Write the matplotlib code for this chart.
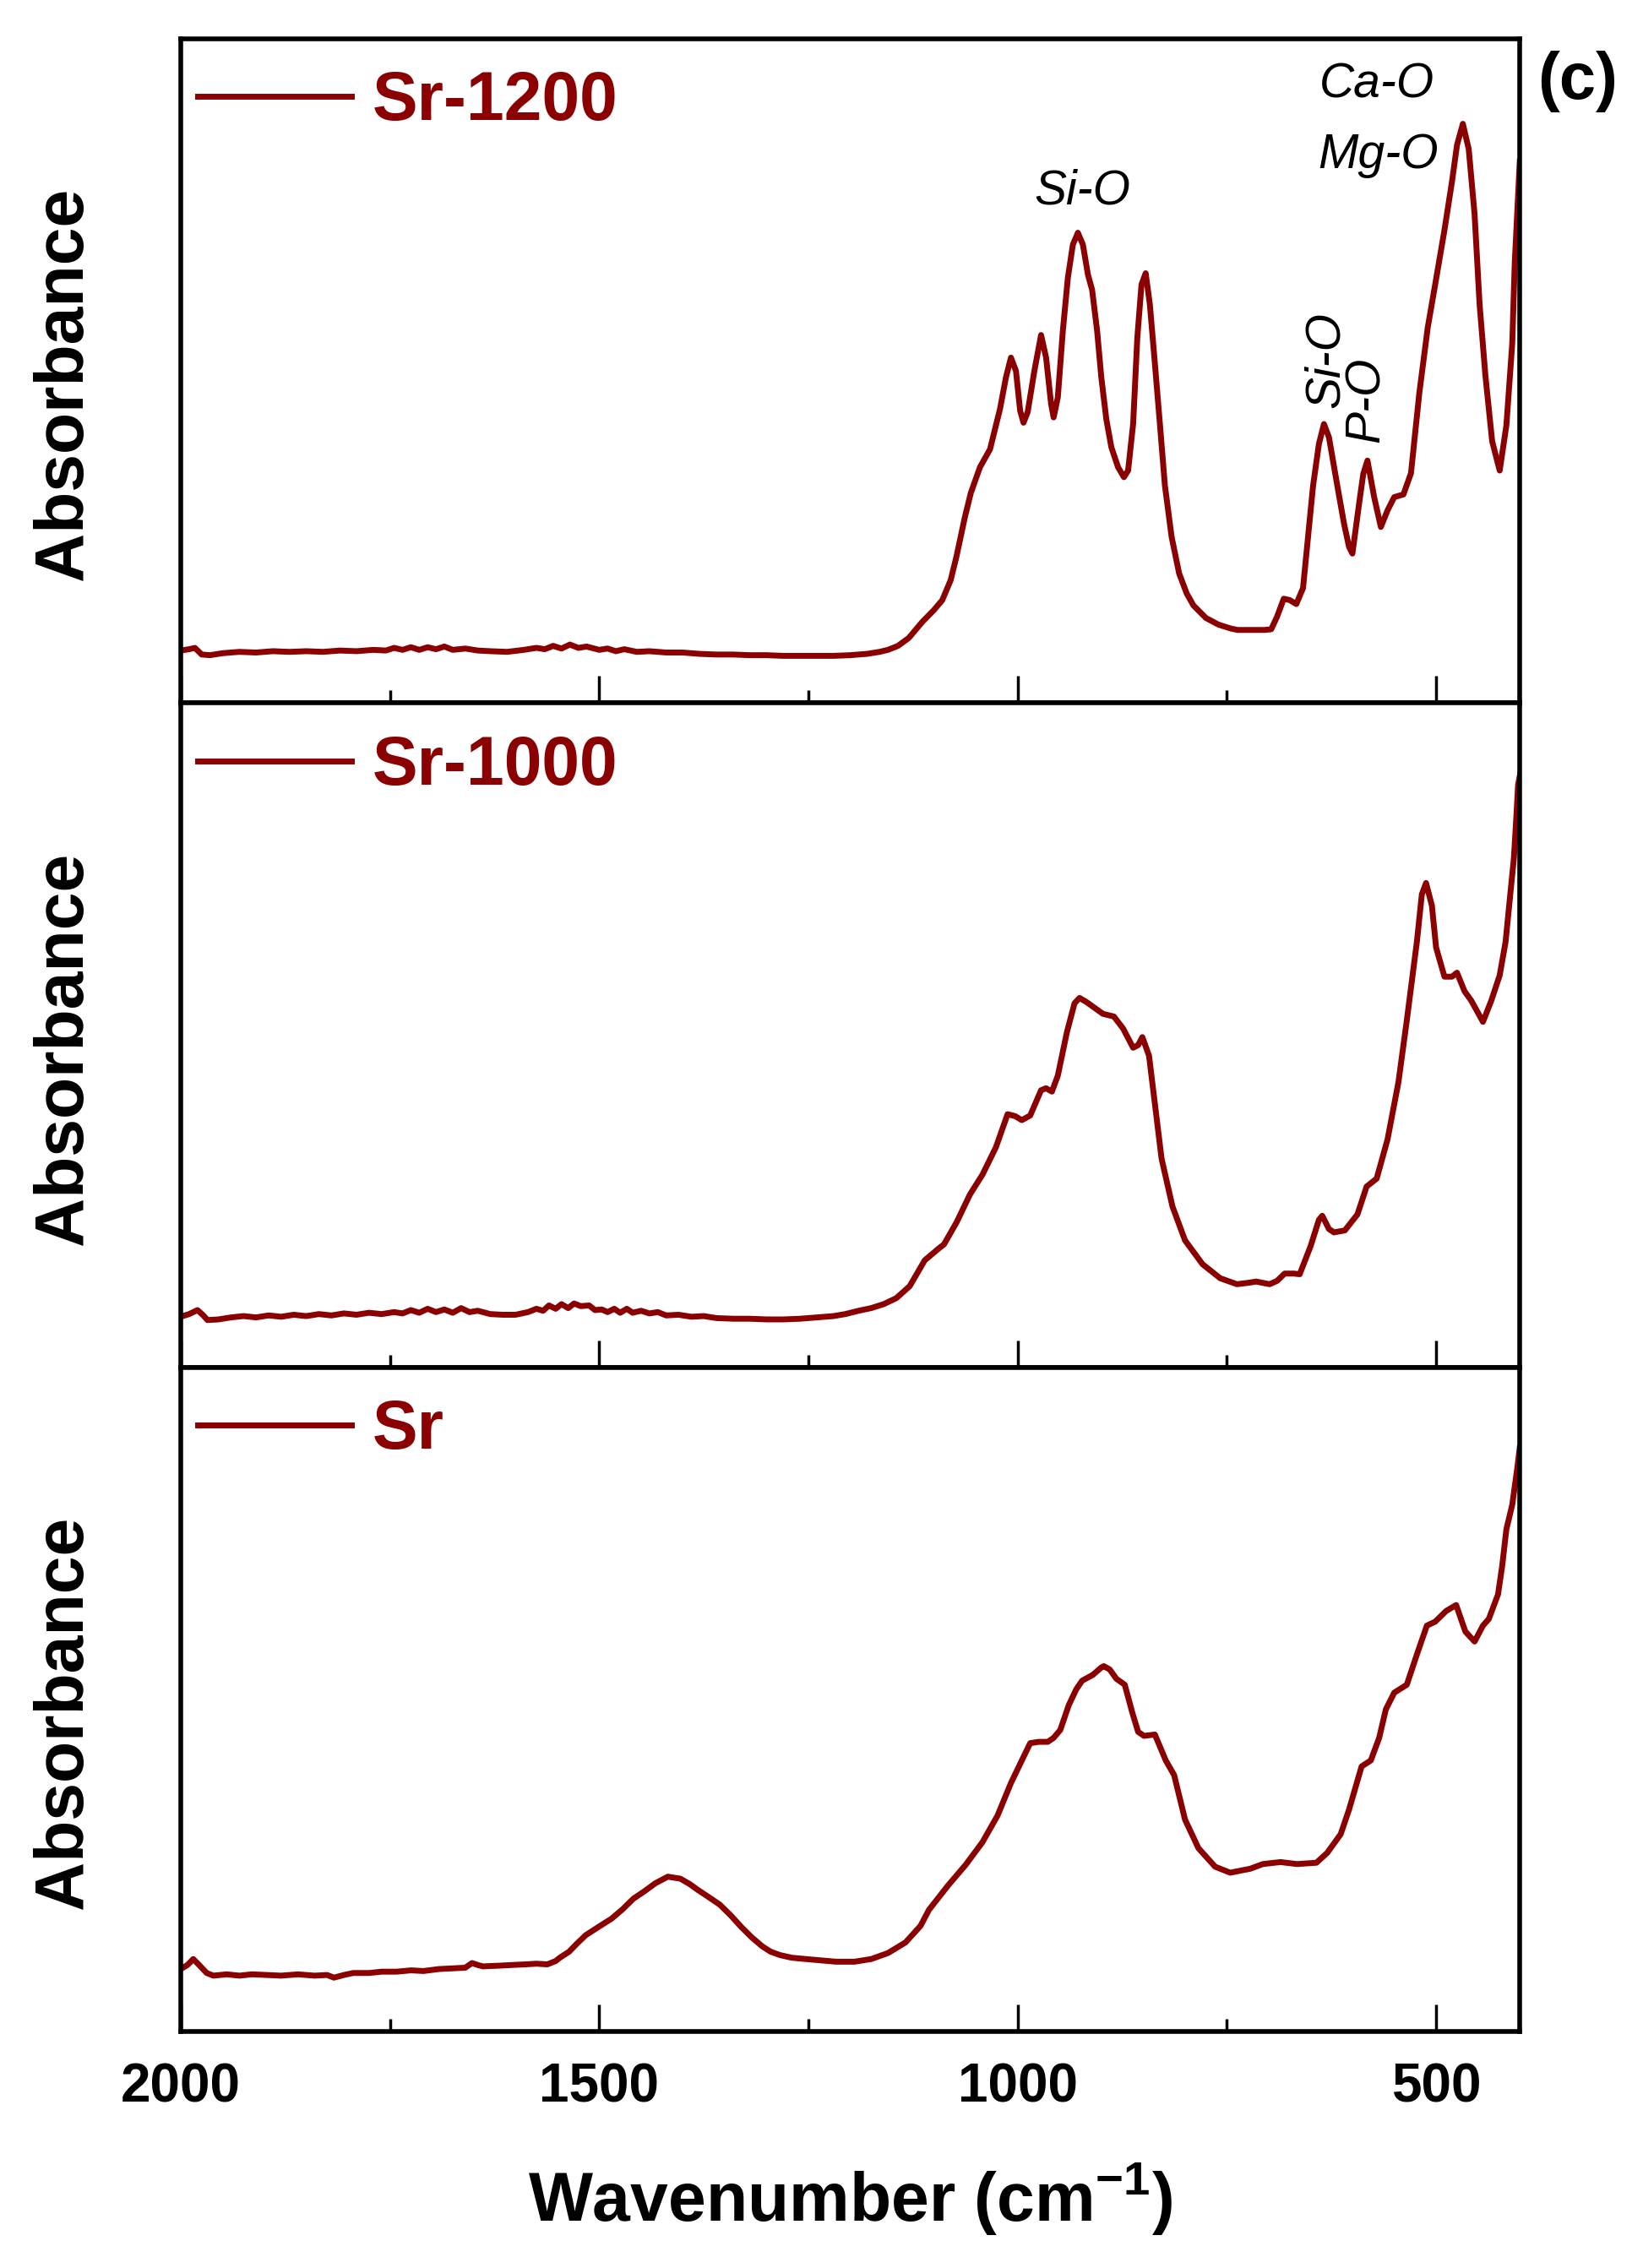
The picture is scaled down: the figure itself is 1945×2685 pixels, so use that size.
import matplotlib
matplotlib.use("Agg")
import matplotlib.pyplot as plt
from matplotlib.ticker import MultipleLocator

plt.rcParams['font.family'] = ['Liberation Sans', 'DejaVu Sans']
plt.rcParams['mathtext.fontset'] = 'custom'
plt.rcParams['mathtext.rm'] = 'Liberation Sans'
plt.rcParams['mathtext.bf'] = 'Liberation Sans:bold'
plt.rcParams['mathtext.it'] = 'Liberation Sans:italic'

# spectra (wavenumber, relative absorbance in panel units)
wn_1200 = [2000, 1990, 1983, 1975, 1965, 1950, 1930, 1910, 1890, 1870, 1850, 1830, 1810, 1790,
           1770, 1755, 1745, 1735, 1725, 1715, 1705, 1695, 1685, 1675, 1660, 1645, 1630, 1610,
           1590, 1575, 1565, 1555, 1545, 1535, 1525, 1515, 1500, 1490, 1480, 1470, 1455, 1440,
           1420, 1400, 1380, 1360, 1340, 1320, 1300, 1280, 1260, 1240, 1220, 1200, 1180, 1165,
           1155, 1143, 1130, 1114, 1100, 1090, 1080, 1073, 1063, 1056, 1045, 1033, 1021, 1014,
           1008, 1002, 997, 993, 988, 980, 972, 966, 960, 957, 952, 946, 940, 934, 928, 922, 916,
           911, 905, 900, 894, 888, 880, 873, 868, 862, 857, 852, 847, 842, 836, 830, 824, 816,
           807, 798, 790, 775, 760, 745, 737, 720, 705, 697, 690, 682, 675, 667, 659, 653, 647,
           640, 634, 628, 618, 610, 604, 600, 592, 587, 582, 574, 566, 558, 550, 539, 530, 520,
           510, 500, 490, 481, 475, 468, 461, 454, 448, 441, 433, 424, 416, 409, 406, 403, 400]
ab_1200 = [0.079, 0.081, 0.083, 0.073, 0.072, 0.075, 0.077, 0.076, 0.078, 0.077, 0.078, 0.077, 0.079, 0.078,
           0.080, 0.079, 0.083, 0.080, 0.084, 0.080, 0.084, 0.081, 0.085, 0.080, 0.082, 0.079, 0.078, 0.077,
           0.080, 0.083, 0.081, 0.086, 0.082, 0.088, 0.083, 0.085, 0.080, 0.082, 0.078, 0.081, 0.077, 0.078,
           0.076, 0.076, 0.074, 0.073, 0.073, 0.072, 0.072, 0.071, 0.071, 0.071, 0.071, 0.072, 0.074, 0.077,
           0.080, 0.086, 0.098, 0.122, 0.140, 0.155, 0.185, 0.221, 0.280, 0.316, 0.355, 0.382, 0.443, 0.490,
           0.520, 0.500, 0.440, 0.422, 0.438, 0.500, 0.554, 0.520, 0.450, 0.430, 0.460, 0.560, 0.640, 0.690, 0.708, 0.690, 0.645,
           0.622, 0.560, 0.490, 0.427, 0.385, 0.355, 0.340, 0.350, 0.420, 0.550, 0.630, 0.647, 0.600, 0.511, 0.420, 0.327, 0.250,
           0.195, 0.165, 0.147, 0.128, 0.118, 0.112, 0.110, 0.110, 0.110, 0.111, 0.130, 0.157, 0.155, 0.149, 0.173, 0.250, 0.327,
           0.390, 0.420, 0.400, 0.327, 0.270, 0.235, 0.225, 0.300, 0.345, 0.365, 0.310, 0.265, 0.290, 0.310, 0.314, 0.346, 0.467,
           0.565, 0.638, 0.712, 0.785, 0.840, 0.872, 0.834, 0.736, 0.600, 0.492, 0.394, 0.350, 0.418, 0.541, 0.663, 0.740, 0.815]

wn_1000 = [2000, 1990, 1980, 1973, 1968, 1955, 1940, 1925, 1910, 1895, 1880, 1865, 1850, 1835, 1820,
           1805, 1790, 1775, 1760, 1745, 1735, 1725, 1715, 1705, 1695, 1685, 1675, 1665, 1655, 1645,
           1630, 1615, 1600, 1585, 1575, 1567, 1560, 1552, 1545, 1537, 1530, 1522, 1512, 1505, 1497,
           1490, 1482, 1475, 1467, 1460, 1450, 1440, 1430, 1420, 1405, 1390, 1375, 1360, 1340, 1320,
           1300, 1280, 1260, 1240, 1220, 1206, 1190, 1175, 1160, 1145, 1129, 1111, 1095, 1088, 1073,
           1057, 1042, 1026, 1012, 1003, 995, 985, 972, 966, 959, 952, 941, 932, 926, 918, 908, 898,
           885, 874, 862, 856, 851, 843, 836, 828, 815, 800, 779, 758, 738, 725, 715, 699, 690, 681,
           670, 663, 650, 640, 636, 628, 622, 609, 594, 583, 571, 558, 545, 535, 523, 517, 512, 505,
           500, 490, 481, 475, 466, 458, 444, 434, 424, 417, 412, 407, 404, 402, 400]
ab_1000 = [0.076, 0.080, 0.086, 0.078, 0.071, 0.072, 0.075, 0.077, 0.075, 0.078, 0.076, 0.079, 0.077, 0.080, 0.078,
           0.081, 0.079, 0.082, 0.080, 0.083, 0.081, 0.086, 0.082, 0.088, 0.083, 0.087, 0.082, 0.089, 0.083, 0.085,
           0.080, 0.079, 0.079, 0.083, 0.088, 0.085, 0.093, 0.088, 0.095, 0.089, 0.096, 0.092, 0.093, 0.086, 0.087,
           0.083, 0.088, 0.082, 0.088, 0.082, 0.085, 0.081, 0.083, 0.078, 0.079, 0.076, 0.077, 0.074, 0.073, 0.073,
           0.072, 0.072, 0.073, 0.075, 0.077, 0.080, 0.085, 0.089, 0.095, 0.104, 0.122, 0.161, 0.178, 0.185, 0.218,
           0.260, 0.290, 0.331, 0.381, 0.378, 0.372, 0.379, 0.417, 0.420, 0.415, 0.439, 0.505, 0.548, 0.556, 0.550, 0.541, 0.532,
           0.528, 0.510, 0.481, 0.485, 0.497, 0.469, 0.397, 0.314, 0.242, 0.191, 0.155, 0.134, 0.125, 0.127, 0.129, 0.125, 0.130, 0.141,
           0.141, 0.140, 0.182, 0.222, 0.228, 0.208, 0.203, 0.206, 0.230, 0.272, 0.284, 0.343, 0.429, 0.522, 0.640, 0.712, 0.729, 0.695,
           0.632, 0.588, 0.588, 0.594, 0.566, 0.552, 0.520, 0.552, 0.590, 0.640, 0.704, 0.767, 0.831, 0.877, 0.890]

wn_sr = [2000, 1992, 1985, 1978, 1969, 1961, 1945, 1930, 1915, 1897, 1880, 1860, 1840, 1825, 1817,
         1805, 1794, 1775, 1760, 1742, 1725, 1710, 1691, 1675, 1660, 1652, 1645, 1639, 1620, 1605,
         1588, 1575, 1562, 1552, 1547, 1536, 1526, 1516, 1500, 1485, 1472, 1459, 1446, 1433, 1418,
         1403, 1392, 1382, 1370, 1356, 1343, 1330, 1318, 1305, 1295, 1284, 1270, 1253, 1235, 1217,
         1195, 1175, 1155, 1134, 1116, 1106, 1083, 1062, 1042, 1024, 1008, 995, 985, 975, 964, 957,
         949, 939, 930, 923, 910, 900, 897, 890, 882, 872, 863, 856, 849, 836, 823, 813, 800, 784,
         764, 746, 722, 707, 686, 666, 643, 630, 614, 604, 589, 578, 568, 560, 550, 535, 522, 511,
         501, 488, 476, 465, 454, 444, 437, 426, 421, 416, 409, 403, 400]
ab_sr = [0.094, 0.100, 0.109, 0.100, 0.088, 0.084, 0.086, 0.084, 0.086, 0.085, 0.084, 0.086, 0.084, 0.085, 0.081,
         0.085, 0.088, 0.088, 0.090, 0.090, 0.092, 0.091, 0.094, 0.095, 0.096, 0.103, 0.100, 0.098, 0.099, 0.100,
         0.101, 0.102, 0.101, 0.106, 0.111, 0.120, 0.133, 0.145, 0.158, 0.170, 0.184, 0.200, 0.211, 0.223, 0.233,
         0.230, 0.222, 0.213, 0.203, 0.191, 0.175, 0.157, 0.142, 0.128, 0.120, 0.115, 0.111, 0.109, 0.107, 0.105,
         0.105, 0.109, 0.118, 0.134, 0.159, 0.183, 0.220, 0.251, 0.285, 0.325, 0.374, 0.408, 0.434, 0.436, 0.436, 0.442,
         0.454, 0.491, 0.515, 0.528, 0.537, 0.548, 0.550, 0.545, 0.531, 0.522, 0.480, 0.451, 0.445, 0.447, 0.408, 0.386, 0.319, 0.276,
         0.248, 0.239, 0.245, 0.252, 0.255, 0.252, 0.254, 0.269, 0.297, 0.334, 0.399, 0.408, 0.442, 0.485, 0.510, 0.522, 0.571, 0.611,
         0.617, 0.633, 0.642, 0.602, 0.587, 0.611, 0.621, 0.658, 0.701, 0.756, 0.793, 0.848, 0.879]

labels = ['Sr-1200', 'Sr-1000', 'Sr']
spectra = [(wn_1200, ab_1200), (wn_1000, ab_1000), (wn_sr, ab_sr)]
color = '#8B0000'

fig, axes = plt.subplots(3, 1, sharex=True, figsize=(19.45, 26.85), dpi=100)
fig.subplots_adjust(left=0.110, right=0.925, bottom=0.1043, top=0.9829, hspace=0)

for ax, (x, y), lab in zip(axes, spectra, labels):
    ax.plot(x, y, color=color, lw=5, label=lab)
    ax.set_xlim(2000, 400)
    ax.set_ylim(0, 1)
    ax.set_yticks([])
    ax.xaxis.set_major_locator(MultipleLocator(500))
    ax.xaxis.set_minor_locator(MultipleLocator(250))
    ax.tick_params(axis='x', which='major', direction='in', length=23, width=2.5,
                   top=False, labelsize=46, pad=26)
    ax.tick_params(axis='x', which='minor', direction='in', length=11, width=2.5, top=False)
    for s in ax.spines.values():
        s.set_linewidth(4)
    ax.set_ylabel('Absorbance', fontsize=58, fontweight='bold')
    ax.yaxis.set_label_coords(-0.063, 0.48)
    ax.legend(loc='upper left', bbox_to_anchor=(0, 0.978), borderaxespad=0, borderpad=0.25,
              frameon=False, handlelength=2.26, handletextpad=0.3,
              prop={'size': 58, 'weight': 'bold'}, labelcolor='linecolor')

for lab in axes[-1].get_xticklabels():
    lab.set_fontweight('bold')
axes[-1].set_xlabel('Wavenumber (cm$^{\\mathbf{-1}}$)', fontsize=58, fontweight='bold', labelpad=40)

# band assignments on the top panel
top = axes[0]
top.text(923, 0.770, 'Si-O', fontsize=41, style='italic', ha='center', va='center')
top.text(571, 0.930, 'Ca-O', fontsize=41, style='italic', ha='center', va='center')
top.text(569, 0.825, 'Mg-O', fontsize=41, style='italic', ha='center', va='center')
top.text(631, 0.517, 'Si-O', fontsize=41, style='italic', ha='center', va='center', rotation=90)
top.text(583, 0.457, 'P-O', fontsize=41, style='italic', ha='center', va='center', rotation=90)

fig.text(0.960, 0.964, '(c)', fontsize=56, fontweight='bold', ha='center', va='center')

fig.savefig('out.png', dpi=100)
